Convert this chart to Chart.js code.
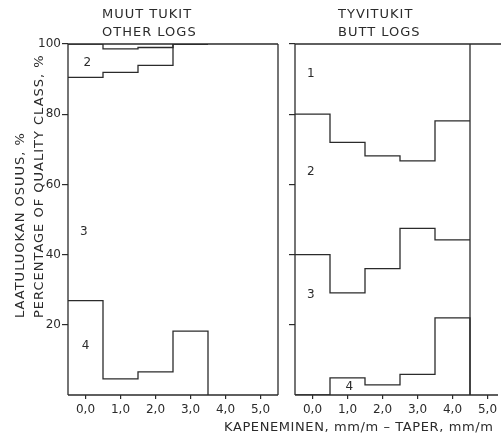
<!DOCTYPE html>
<html>
<head>
<meta charset="utf-8">
<script src="https://cdn.jsdelivr.net/npm/chart.js@4.4.1/dist/chart.umd.min.js"></script>
<style>
  html, body { margin: 0; padding: 0; background: #fff; overflow: hidden; }
  #wrap { position: relative; width: 501px; height: 435px; overflow: hidden; }
  canvas { position: absolute; left: 0; top: 0; }
</style>
</head>
<body>
<div id="wrap">
  <canvas id="otherChart" width="501" height="435"></canvas>
  <canvas id="buttChart" width="520" height="435"></canvas>
</div>
<script>
// taper classes (mm/m) and quality class shares (%) per class
const otherTaper = [0, 1, 2, 3];
const otherClass1 = [0.0, 1.4, 1.0, 0.0];
const otherClass2 = [9.5, 6.7, 5.1, 0.0];
const otherClass3 = [63.6, 87.3, 87.3, 81.8];
const otherClass4 = [26.9, 4.6, 6.6, 18.2];

const buttTaper = [0, 1, 2, 3, 4];
const buttClass1 = [20.0, 28.0, 31.9, 33.3, 21.9];
const buttClass2 = [40.0, 42.9, 32.1, 19.2, 33.9];
const buttClass3 = [40.0, 24.2, 33.1, 41.6, 22.2];
const buttClass4 = [0.0, 4.9, 2.9, 5.9, 22.0];

const taperTicks = [0, 1, 2, 3, 4, 5];
const taperLabels = ['0,0', '1,0', '2,0', '3,0', '4,0', '5,0'];
const percentTicks = [0, 20, 40, 60, 80, 100];

const INK = '#2b2b2b';
const FONT = '"DejaVu Sans", sans-serif';

// running sum of several share rows -> class boundary
function cumulate(...rows) {
  return rows[0].map((_, i) => rows.reduce((s, r) => s + r[i], 0));
}

// step line: value holds over each 1 mm/m class, drops to endValue at the end
function steps(taper, values, endValue) {
  const pts = taper.map((t, i) => ({ x: t - 0.5, y: values[i] }));
  const last = values[values.length - 1];
  pts.push({ x: taper[taper.length - 1] + 0.5, y: endValue === undefined ? last : endValue });
  return pts;
}

function boundarySets(taper, c1, c2, c3, c4) {
  const b34 = c4;
  const b23 = cumulate(c4, c3);
  const b12 = cumulate(c4, c3, c2);
  return [b12, b23, b34].map((b, i) => ({
    data: steps(taper, b, i === 2 ? 0 : undefined),
    stepped: true,
    borderColor: INK,
    borderWidth: 1.3,
    pointRadius: 0,
    fill: false
  }));
}

// frame lines and the hand lettering of each panel
const panelDecor = {
  id: 'panelDecor',
  afterDatasetsDraw(chart, args, opts) {
    const { ctx, chartArea: a, scales: { x, y } } = chart;
    ctx.save();
    ctx.strokeStyle = INK;
    ctx.lineWidth = 1.3;
    ctx.beginPath();
    ctx.moveTo(a.left, a.top); ctx.lineTo(a.left, a.bottom);
    ctx.moveTo(a.left, a.top); ctx.lineTo(opts.topEnd || a.right, a.top);
    ctx.moveTo(a.left, a.bottom); ctx.lineTo(opts.bottomEnd || a.right, a.bottom);
    if (opts.closeRight) { ctx.moveTo(a.right, a.top); ctx.lineTo(a.right, a.bottom); }
    if (opts.dataEnd !== undefined) {
      const px = x.getPixelForValue(opts.dataEnd);
      ctx.moveTo(px, a.top); ctx.lineTo(px, a.bottom);
    }
    ctx.stroke();

    ctx.fillStyle = INK;
    ctx.textBaseline = 'middle';
    ctx.textAlign = 'center';
    ctx.font = '12px ' + FONT;
    opts.classLabels.forEach(l => {
      ctx.fillText(l.text, x.getPixelForValue(l.x), y.getPixelForValue(l.y));
    });

    ctx.textAlign = 'left';
    ctx.font = '13px ' + FONT;
    ctx.letterSpacing = '1px';
    opts.title.forEach((line, i) => {
      ctx.fillText(line, a.left + opts.titleOffset, 15 + i * 18);
    });

    if (opts.axisTitles) {
      ctx.letterSpacing = '0.6px';
      ctx.fillText('KAPENEMINEN, mm/m – TAPER, mm/m', 224, 428);
      ctx.letterSpacing = '1px';
      ctx.rotate(-Math.PI / 2);
      ctx.fillText('LAATULUOKAN OSUUS, %', -318, 21);
      ctx.fillText('PERCENTAGE OF QUALITY CLASS, %', -318, 40);
    }
    ctx.restore();
  }
};

function makeOptions(plotLeft, plotRight, canvasWidth, showY, decor) {
  return {
    responsive: false,
    animation: false,
    layout: { padding: { left: 0, right: canvasWidth - plotRight, top: 44, bottom: 0 } },
    plugins: { legend: { display: false }, tooltip: { enabled: false }, panelDecor: decor },
    scales: {
      x: {
        type: 'linear',
        min: -0.5,
        max: 5.5,
        afterBuildTicks: s => { s.ticks = taperTicks.map(v => ({ value: v })); },
        afterFit: s => { s.height = 40; },
        border: { display: false },
        grid: { drawOnChartArea: false, drawTicks: true, tickLength: 4, color: INK, lineWidth: 1.2 },
        ticks: {
          padding: 4,
          color: INK,
          font: { family: FONT, size: 12 },
          callback: (v) => taperLabels[taperTicks.indexOf(v)]
        }
      },
      y: {
        min: 0,
        max: 100,
        afterBuildTicks: s => { s.ticks = percentTicks.map(v => ({ value: v })); },
        afterFit: s => { s.width = plotLeft; },
        border: { display: false },
        grid: {
          drawOnChartArea: false,
          drawTicks: true,
          tickLength: 6,
          lineWidth: 1.2,
          color: c => (c.tick && c.tick.value === 0 ? 'rgba(0,0,0,0)' : INK)
        },
        ticks: {
          display: showY,
          padding: 1,
          color: INK,
          font: { family: FONT, size: 12 },
          callback: v => (v === 0 ? '' : String(v))
        }
      }
    }
  };
}

new Chart(document.getElementById('otherChart'), {
  type: 'line',
  data: { datasets: boundarySets(otherTaper, otherClass1, otherClass2, otherClass3, otherClass4) },
  options: makeOptions(68, 278, 501, true, {
    closeRight: true,
    title: ['MUUT TUKIT', 'OTHER LOGS'],
    titleOffset: 34,
    axisTitles: true,
    classLabels: [
      { text: '2', x: 0.05, y: 94.5 },
      { text: '3', x: -0.05, y: 46.5 },
      { text: '4', x: 0.0, y: 14 }
    ]
  }),
  plugins: [panelDecor]
});

new Chart(document.getElementById('buttChart'), {
  type: 'line',
  data: { datasets: boundarySets(buttTaper, buttClass1, buttClass2, buttClass3, buttClass4) },
  options: makeOptions(295, 505, 520, false, {
    closeRight: false,
    topEnd: 520,
    bottomEnd: 498,
    dataEnd: buttTaper[buttTaper.length - 1] + 0.5,
    title: ['TYVITUKIT', 'BUTT LOGS'],
    titleOffset: 43,
    axisTitles: false,
    classLabels: [
      { text: '1', x: -0.05, y: 91.5 },
      { text: '2', x: -0.05, y: 63.5 },
      { text: '3', x: -0.05, y: 28.5 },
      { text: '4', x: 1.05, y: 2.3 }
    ]
  }),
  plugins: [panelDecor]
});
</script>
</body>
</html>
